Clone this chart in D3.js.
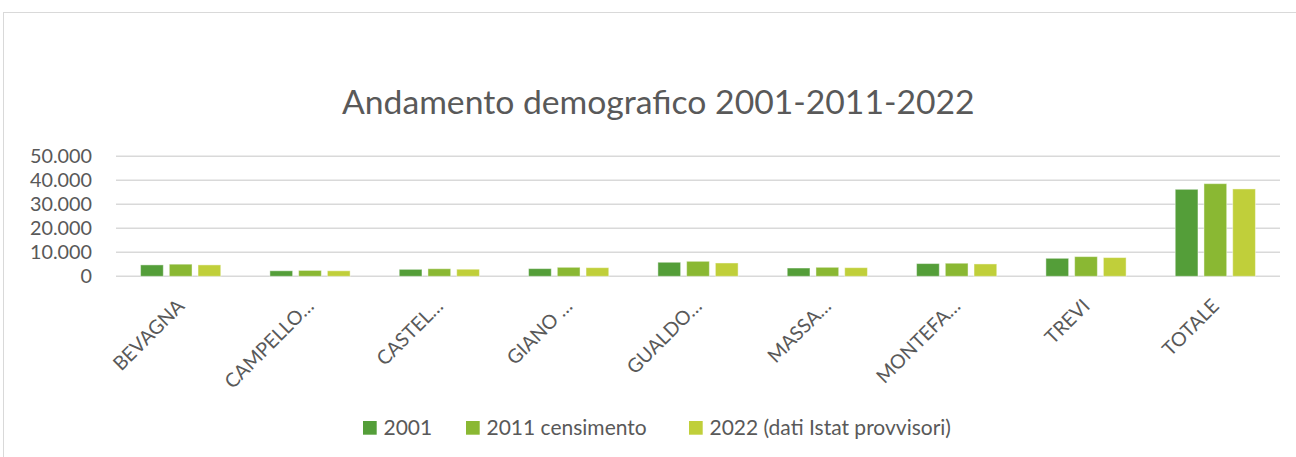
<!DOCTYPE html>
<html>
<head>
<meta charset="utf-8">
<script src="https://cdn.jsdelivr.net/npm/d3@7"></script>
<style>
  html, body { margin: 0; padding: 0; background: #fff; }
  svg { display: block; }
  text { font-family: Lato, "Open Sans", sans-serif; fill: #595959; }
</style>
</head>
<body>
<script>
const categories = ["BEVAGNA", "CAMPELLO…", "CASTEL…", "GIANO …", "GUALDO…", "MASSA…", "MONTEFA…", "TREVI", "TOTALE"];
const seriesNames = ["2001", "2011 censimento", "2022 (dati Istat provvisori)"];
const values2001 = [4750, 2300, 2900, 3200, 5850, 3450, 5300, 7500, 36250];
const values2011 = [5050, 2450, 3150, 3750, 6250, 3750, 5450, 8200, 38600];
const values2022 = [4750, 2300, 2950, 3600, 5550, 3600, 5150, 7800, 36400];
const yTicks = [0, 10000, 20000, 30000, 40000, 50000];
const yTickLabels = ["0", "10.000", "20.000", "30.000", "40.000", "50.000"];
const title = "Andamento demografico 2001-2011-2022";
const colors = ["#549E39", "#8AB833", "#C0CF3A"];

const W = 1296, H = 457;
const svg = d3.select("body").append("svg").attr("width", W).attr("height", H);

// chart frame
svg.append("rect").attr("x", 3.5).attr("y", 12.5).attr("width", W + 10).attr("height", H + 10)
  .attr("fill", "#fff").attr("stroke", "#d9d9d9").attr("stroke-width", 1);

const plot = { left: 116, right: 1280, top: 156.3, bottom: 276.3 };

const x0 = d3.scaleBand().domain(categories).range([plot.left, plot.right]).paddingInner(0).paddingOuter(0);
const x1 = d3.scaleBand().domain(seriesNames).range([-40.1, 40.1]).paddingInner(0.209).paddingOuter(0);
const y = d3.scaleLinear().domain([0, 50000]).range([plot.bottom, plot.top]);

// gridlines
svg.append("g").selectAll("line").data(yTicks).join("line")
  .attr("x1", plot.left).attr("x2", plot.right)
  .attr("y1", d => y(d)).attr("y2", d => y(d))
  .attr("stroke", "#d9d9d9").attr("stroke-width", 1.5);

// y labels
svg.append("g").selectAll("text").data(yTicks).join("text")
  .attr("x", 92).attr("y", d => y(d)).attr("dy", "0.36em")
  .attr("text-anchor", "end").attr("font-size", 19.8)
  .text((d, i) => yTickLabels[i]);

// bars
const seriesData = [values2001, values2011, values2022];
const rows = [];
categories.forEach((c, i) => seriesNames.forEach((s, j) => rows.push({ c, s, v: seriesData[j][i], j })));
svg.append("g").selectAll("rect").data(rows).join("rect")
  .attr("x", d => x0(d.c) + x0.bandwidth() / 2 + x1(d.s))
  .attr("width", x1.bandwidth())
  .attr("y", d => y(d.v))
  .attr("height", d => y(0) - y(d.v))
  .attr("fill", d => colors[d.j])
  .attr("stroke", "#fff").attr("stroke-opacity", 0.45).attr("stroke-width", 1);

// x labels rotated
svg.append("g").selectAll("text").data(categories).join("text")
  .attr("transform", d => `translate(${x0(d) + x0.bandwidth() / 2 + 5},${plot.bottom + 31}) rotate(-45)`)
  .attr("text-anchor", "end").attr("font-size", 19.5)
  .text(d => d);

// title fitted to width
const t = svg.append("text").attr("x", 342).attr("y", 114.3).attr("font-size", 100).text(title);
const tw = t.node().getComputedTextLength();
t.attr("font-size", 100 * 633 / tw);

// legend
const legendX = [363, 466, 689];
const lg = svg.append("g").selectAll("g").data(seriesNames).join("g")
  .attr("transform", (d, i) => `translate(${legendX[i]},421)`);
lg.append("rect").attr("width", 13.7).attr("height", 13.7).attr("fill", (d, i) => colors[i]);
lg.append("text").attr("x", 20.5).attr("y", 14).attr("font-size", 21).text(d => d);
</script>
</body>
</html>
